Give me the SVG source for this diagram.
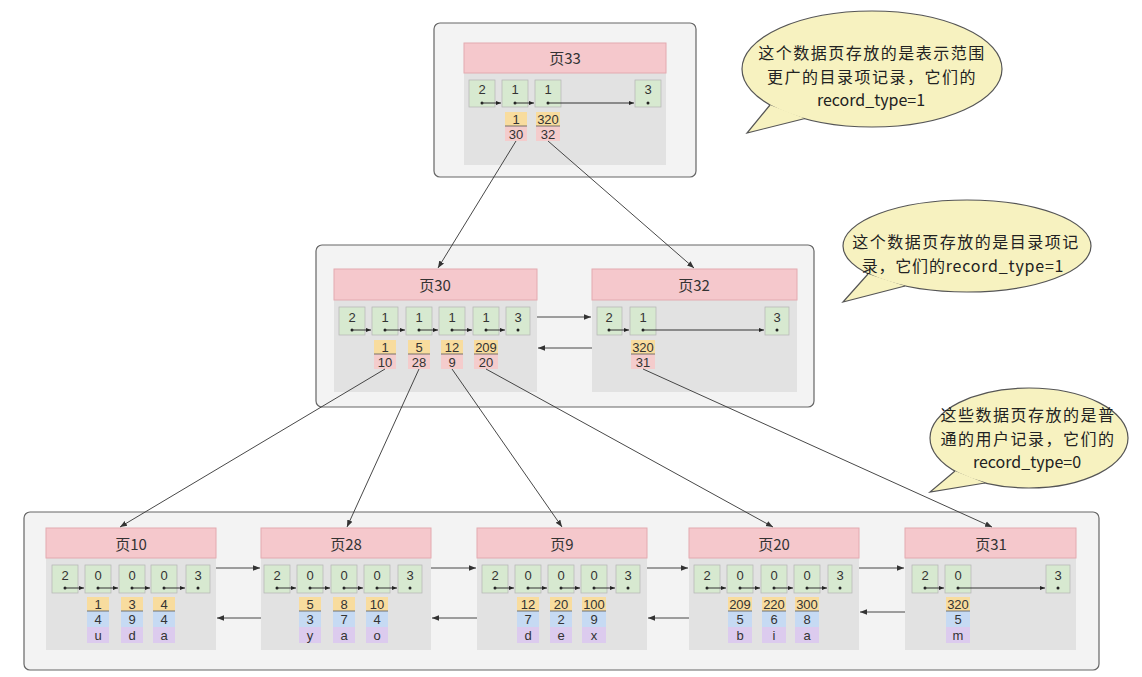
<svg xmlns="http://www.w3.org/2000/svg" width="1142" height="677" viewBox="0 0 1142 677">
<style>
text{font-family:"Liberation Sans","Noto Sans CJK SC",sans-serif;fill:#333;text-anchor:middle}
.n{font-size:13px}
.m{font-size:13px}
.ht{font-size:15px;font-family:"Noto Sans CJK SC","Noto Sans",sans-serif}
.bt{font-size:16px;fill:#222;font-family:"Noto Sans CJK SC","Noto Sans",sans-serif}
.cj{letter-spacing:1.5px}
.box{fill:#f3f3f3;stroke:#666;stroke-width:1.2}
.body{fill:#e2e2e2}
.hdr{fill:#f5c8cc;stroke:#e3aab0;stroke-width:1}
.rec{fill:#d7e9d0;stroke:#b4b4b4;stroke-width:0.7}
.k{fill:#f8dc9e}
.p{fill:#f4cccc}
.b{fill:#c6daf3}
.u{fill:#dccbee}
.sep{stroke:#555;stroke-width:0.8}
.ar{stroke:#333;stroke-width:0.9;fill:none;marker-end:url(#ah)}
.ra{stroke:#333;stroke-width:1;fill:none;marker-end:url(#ah2)}
.dot{fill:#222}
.bub{fill:#f7f2c0;stroke:#555;stroke-width:1.2}
</style>
<defs>
<marker id="ah" viewBox="0 0 10 10" refX="10" refY="5" markerWidth="7" markerHeight="7" orient="auto" markerUnits="userSpaceOnUse"><path d="M0,1 L10,5 L0,9 z" fill="#333"/></marker>
<marker id="ah2" viewBox="0 0 10 10" refX="10" refY="5" markerWidth="5" markerHeight="5" orient="auto" markerUnits="userSpaceOnUse"><path d="M0,1 L10,5 L0,9 z" fill="#222"/></marker>
</defs>
<rect width="1142" height="677" fill="#ffffff"/>

<!-- containers -->
<rect class="box" x="434" y="23" width="262" height="154" rx="6"/>
<rect class="box" x="316" y="245" width="498" height="162" rx="6"/>
<rect class="box" x="24" y="512" width="1075" height="158" rx="6"/>

<!-- page 33 -->
<g id="page33">
<rect class="body" x="464" y="73" width="202" height="92"/>
<rect class="hdr" x="464" y="43" width="202" height="30"/>
<text class="ht" x="565" y="64">页33</text>
<rect class="rec" x="469" y="80" width="26" height="27"/>
<rect class="rec" x="502" y="80" width="26" height="27"/>
<rect class="rec" x="535" y="80" width="26" height="27"/>
<rect class="rec" x="635" y="80" width="26" height="27"/>
<text class="n" x="482" y="94">2</text>
<text class="n" x="515" y="94">1</text>
<text class="n" x="548" y="94">1</text>
<text class="n" x="648" y="94">3</text>
<circle class="dot" cx="482" cy="103" r="1.5"/><circle class="dot" cx="515" cy="103" r="1.5"/><circle class="dot" cx="548" cy="103" r="1.5"/><circle class="dot" cx="648" cy="103" r="1.5"/>
<path class="ra" d="M482,103 H501"/><path class="ra" d="M515,103 H534"/><path class="ra" d="M548,103 H634"/>
<rect class="k" x="505" y="112" width="22" height="14"/><rect class="p" x="505" y="126" width="22" height="15"/>
<rect class="k" x="536" y="112" width="24" height="14"/><rect class="p" x="536" y="126" width="24" height="15"/>
<path class="sep" d="M505,126 H527 M536,126 H560"/>
<text class="m" x="516" y="123.5">1</text><text class="m" x="516" y="138.5">30</text>
<text class="m" x="548" y="123.5">320</text><text class="m" x="548" y="138.5">32</text>
</g>

<!-- page 30 -->
<g id="page30">
<rect class="body" x="334" y="300" width="203" height="92"/>
<rect class="hdr" x="334" y="269" width="203" height="31"/>
<text class="ht" x="435" y="291">页30</text>
<rect class="rec" x="339" y="307" width="26" height="28"/>
<rect class="rec" x="372" y="307" width="26" height="28"/>
<rect class="rec" x="406" y="307" width="26" height="28"/>
<rect class="rec" x="439" y="307" width="26" height="28"/>
<rect class="rec" x="473" y="307" width="26" height="28"/>
<rect class="rec" x="506" y="307" width="24" height="28"/>
<text class="n" x="352" y="322">2</text><text class="n" x="385" y="322">1</text><text class="n" x="419" y="322">1</text><text class="n" x="452" y="322">1</text><text class="n" x="486" y="322">1</text><text class="n" x="518" y="322">3</text>
<circle class="dot" cx="352" cy="330" r="1.5"/><circle class="dot" cx="385" cy="330" r="1.5"/><circle class="dot" cx="419" cy="330" r="1.5"/><circle class="dot" cx="452" cy="330" r="1.5"/><circle class="dot" cx="486" cy="330" r="1.5"/><circle class="dot" cx="518" cy="330" r="1.5"/>
<path class="ra" d="M352,330 H371"/><path class="ra" d="M385,330 H405"/><path class="ra" d="M419,330 H438"/><path class="ra" d="M452,330 H472"/><path class="ra" d="M486,330 H505"/>
<rect class="k" x="374" y="340" width="22" height="14"/><rect class="p" x="374" y="354" width="22" height="15"/>
<rect class="k" x="408" y="340" width="22" height="14"/><rect class="p" x="408" y="354" width="22" height="15"/>
<rect class="k" x="441" y="340" width="22" height="14"/><rect class="p" x="441" y="354" width="22" height="15"/>
<rect class="k" x="474" y="340" width="24" height="14"/><rect class="p" x="474" y="354" width="24" height="15"/>
<path class="sep" d="M374,354 H396 M408,354 H430 M441,354 H463 M474,354 H498"/>
<text class="m" x="385" y="351.5">1</text><text class="m" x="419" y="351.5">5</text><text class="m" x="452" y="351.5">12</text><text class="m" x="486" y="351.5">209</text>
<text class="m" x="385" y="366.5">10</text><text class="m" x="419" y="366.5">28</text><text class="m" x="452" y="366.5">9</text><text class="m" x="486" y="366.5">20</text>
</g>

<!-- page 32 -->
<g id="page32">
<rect class="body" x="592" y="300" width="205" height="92"/>
<rect class="hdr" x="592" y="269" width="205" height="31"/>
<text class="ht" x="694" y="291">页32</text>
<rect class="rec" x="597" y="307" width="25" height="28"/>
<rect class="rec" x="630" y="307" width="26" height="28"/>
<rect class="rec" x="765" y="307" width="24" height="28"/>
<text class="n" x="609" y="322">2</text><text class="n" x="643" y="322">1</text><text class="n" x="777" y="322">3</text>
<circle class="dot" cx="609" cy="330" r="1.5"/><circle class="dot" cx="643" cy="330" r="1.5"/><circle class="dot" cx="777" cy="330" r="1.5"/>
<path class="ra" d="M609,330 H629"/><path class="ra" d="M643,330 H764"/>
<rect class="k" x="631" y="340" width="24" height="14"/><rect class="p" x="631" y="354" width="24" height="15"/>
<path class="sep" d="M631,354 H655"/>
<text class="m" x="643" y="351.5">320</text><text class="m" x="643" y="366.5">31</text>
</g>

<!-- bottom pages -->
<g id="page10">
<rect class="body" x="46" y="558" width="170" height="92"/>
<rect class="hdr" x="46" y="528" width="170" height="30"/>
<text class="ht" x="131" y="550">页10</text>
<rect class="rec" x="52" y="565" width="26" height="28"/><rect class="rec" x="85" y="565" width="26" height="28"/><rect class="rec" x="119" y="565" width="26" height="28"/><rect class="rec" x="151" y="565" width="26" height="28"/><rect class="rec" x="186" y="565" width="24" height="28"/>
<text class="n" x="65" y="580">2</text><text class="n" x="98" y="580">0</text><text class="n" x="132" y="580">0</text><text class="n" x="164" y="580">0</text><text class="n" x="198" y="580">3</text>
<circle class="dot" cx="65" cy="588" r="1.5"/><circle class="dot" cx="98" cy="588" r="1.5"/><circle class="dot" cx="132" cy="588" r="1.5"/><circle class="dot" cx="164" cy="588" r="1.5"/><circle class="dot" cx="198" cy="588" r="1.5"/>
<path class="ra" d="M65,588 H84"/><path class="ra" d="M98,588 H118"/><path class="ra" d="M132,588 H150"/><path class="ra" d="M164,588 H185"/>
<rect class="k" x="87" y="597" width="22" height="14"/><rect class="b" x="87" y="611" width="22" height="16"/><rect class="u" x="87" y="627" width="22" height="16"/>
<rect class="k" x="121" y="597" width="22" height="14"/><rect class="b" x="121" y="611" width="22" height="16"/><rect class="u" x="121" y="627" width="22" height="16"/>
<rect class="k" x="153" y="597" width="22" height="14"/><rect class="b" x="153" y="611" width="22" height="16"/><rect class="u" x="153" y="627" width="22" height="16"/>
<path class="sep" d="M87,611 H109 M121,611 H143 M153,611 H175"/>
<text class="n" x="98" y="608.5">1</text><text class="n" x="132" y="608.5">3</text><text class="n" x="164" y="608.5">4</text>
<text class="n" x="98" y="624">4</text><text class="n" x="132" y="624">9</text><text class="n" x="164" y="624">4</text>
<text class="n" x="98" y="640">u</text><text class="n" x="132" y="640">d</text><text class="n" x="164" y="640">a</text>
</g>

<g id="page28">
<rect class="body" x="261" y="558" width="170" height="92"/>
<rect class="hdr" x="261" y="528" width="170" height="30"/>
<text class="ht" x="346" y="550">页28</text>
<rect class="rec" x="264" y="565" width="26" height="28"/><rect class="rec" x="297" y="565" width="26" height="28"/><rect class="rec" x="331" y="565" width="26" height="28"/><rect class="rec" x="364" y="565" width="26" height="28"/><rect class="rec" x="398" y="565" width="24" height="28"/>
<text class="n" x="277" y="580">2</text><text class="n" x="310" y="580">0</text><text class="n" x="344" y="580">0</text><text class="n" x="377" y="580">0</text><text class="n" x="410" y="580">3</text>
<circle class="dot" cx="277" cy="588" r="1.5"/><circle class="dot" cx="310" cy="588" r="1.5"/><circle class="dot" cx="344" cy="588" r="1.5"/><circle class="dot" cx="377" cy="588" r="1.5"/><circle class="dot" cx="410" cy="588" r="1.5"/>
<path class="ra" d="M277,588 H296"/><path class="ra" d="M310,588 H330"/><path class="ra" d="M344,588 H363"/><path class="ra" d="M377,588 H397"/>
<rect class="k" x="299" y="597" width="22" height="14"/><rect class="b" x="299" y="611" width="22" height="16"/><rect class="u" x="299" y="627" width="22" height="16"/>
<rect class="k" x="333" y="597" width="22" height="14"/><rect class="b" x="333" y="611" width="22" height="16"/><rect class="u" x="333" y="627" width="22" height="16"/>
<rect class="k" x="366" y="597" width="22" height="14"/><rect class="b" x="366" y="611" width="22" height="16"/><rect class="u" x="366" y="627" width="22" height="16"/>
<path class="sep" d="M299,611 H321 M333,611 H355 M366,611 H388"/>
<text class="n" x="310" y="608.5">5</text><text class="n" x="344" y="608.5">8</text><text class="n" x="377" y="608.5">10</text>
<text class="n" x="310" y="624">3</text><text class="n" x="344" y="624">7</text><text class="n" x="377" y="624">4</text>
<text class="n" x="310" y="640">y</text><text class="n" x="344" y="640">a</text><text class="n" x="377" y="640">o</text>
</g>

<g id="page9">
<rect class="body" x="477" y="558" width="170" height="92"/>
<rect class="hdr" x="477" y="528" width="170" height="30"/>
<text class="ht" x="562" y="550">页9</text>
<rect class="rec" x="482" y="565" width="26" height="28"/><rect class="rec" x="515" y="565" width="26" height="28"/><rect class="rec" x="548" y="565" width="26" height="28"/><rect class="rec" x="581" y="565" width="26" height="28"/><rect class="rec" x="616" y="565" width="24" height="28"/>
<text class="n" x="495" y="580">2</text><text class="n" x="528" y="580">0</text><text class="n" x="561" y="580">0</text><text class="n" x="594" y="580">0</text><text class="n" x="628" y="580">3</text>
<circle class="dot" cx="495" cy="588" r="1.5"/><circle class="dot" cx="528" cy="588" r="1.5"/><circle class="dot" cx="561" cy="588" r="1.5"/><circle class="dot" cx="594" cy="588" r="1.5"/><circle class="dot" cx="628" cy="588" r="1.5"/>
<path class="ra" d="M495,588 H514"/><path class="ra" d="M528,588 H547"/><path class="ra" d="M561,588 H580"/><path class="ra" d="M594,588 H615"/>
<rect class="k" x="517" y="597" width="22" height="14"/><rect class="b" x="517" y="611" width="22" height="16"/><rect class="u" x="517" y="627" width="22" height="16"/>
<rect class="k" x="550" y="597" width="22" height="14"/><rect class="b" x="550" y="611" width="22" height="16"/><rect class="u" x="550" y="627" width="22" height="16"/>
<rect class="k" x="582" y="597" width="24" height="14"/><rect class="b" x="582" y="611" width="24" height="16"/><rect class="u" x="582" y="627" width="24" height="16"/>
<path class="sep" d="M517,611 H539 M550,611 H572 M582,611 H606"/>
<text class="n" x="528" y="608.5">12</text><text class="n" x="561" y="608.5">20</text><text class="n" x="594" y="608.5">100</text>
<text class="n" x="528" y="624">7</text><text class="n" x="561" y="624">2</text><text class="n" x="594" y="624">9</text>
<text class="n" x="528" y="640">d</text><text class="n" x="561" y="640">e</text><text class="n" x="594" y="640">x</text>
</g>

<g id="page20">
<rect class="body" x="689" y="558" width="170" height="92"/>
<rect class="hdr" x="689" y="528" width="170" height="30"/>
<text class="ht" x="774" y="550">页20</text>
<rect class="rec" x="694" y="565" width="26" height="28"/><rect class="rec" x="727" y="565" width="26" height="28"/><rect class="rec" x="761" y="565" width="26" height="28"/><rect class="rec" x="794" y="565" width="26" height="28"/><rect class="rec" x="828" y="565" width="24" height="28"/>
<text class="n" x="707" y="580">2</text><text class="n" x="740" y="580">0</text><text class="n" x="774" y="580">0</text><text class="n" x="807" y="580">0</text><text class="n" x="840" y="580">3</text>
<circle class="dot" cx="707" cy="588" r="1.5"/><circle class="dot" cx="740" cy="588" r="1.5"/><circle class="dot" cx="774" cy="588" r="1.5"/><circle class="dot" cx="807" cy="588" r="1.5"/><circle class="dot" cx="840" cy="588" r="1.5"/>
<path class="ra" d="M707,588 H726"/><path class="ra" d="M740,588 H760"/><path class="ra" d="M774,588 H793"/><path class="ra" d="M807,588 H827"/>
<rect class="k" x="728" y="597" width="24" height="14"/><rect class="b" x="728" y="611" width="24" height="16"/><rect class="u" x="728" y="627" width="24" height="16"/>
<rect class="k" x="762" y="597" width="24" height="14"/><rect class="b" x="762" y="611" width="24" height="16"/><rect class="u" x="762" y="627" width="24" height="16"/>
<rect class="k" x="795" y="597" width="24" height="14"/><rect class="b" x="795" y="611" width="24" height="16"/><rect class="u" x="795" y="627" width="24" height="16"/>
<path class="sep" d="M728,611 H752 M762,611 H786 M795,611 H819"/>
<text class="n" x="740" y="608.5">209</text><text class="n" x="774" y="608.5">220</text><text class="n" x="807" y="608.5">300</text>
<text class="n" x="740" y="624">5</text><text class="n" x="774" y="624">6</text><text class="n" x="807" y="624">8</text>
<text class="n" x="740" y="640">b</text><text class="n" x="774" y="640">i</text><text class="n" x="807" y="640">a</text>
</g>

<g id="page31">
<rect class="body" x="905" y="558" width="171" height="92"/>
<rect class="hdr" x="905" y="528" width="171" height="30"/>
<text class="ht" x="991" y="550">页31</text>
<rect class="rec" x="912" y="565" width="26" height="28"/><rect class="rec" x="945" y="565" width="26" height="28"/><rect class="rec" x="1046" y="565" width="24" height="28"/>
<text class="n" x="925" y="580">2</text><text class="n" x="958" y="580">0</text><text class="n" x="1058" y="580">3</text>
<circle class="dot" cx="925" cy="588" r="1.5"/><circle class="dot" cx="958" cy="588" r="1.5"/><circle class="dot" cx="1058" cy="588" r="1.5"/>
<path class="ra" d="M925,588 H944"/><path class="ra" d="M958,588 H1045"/>
<rect class="k" x="946" y="597" width="24" height="14"/><rect class="b" x="946" y="611" width="24" height="16"/><rect class="u" x="946" y="627" width="24" height="16"/>
<path class="sep" d="M946,611 H970"/>
<text class="n" x="958" y="608.5">320</text><text class="n" x="958" y="624">5</text><text class="n" x="958" y="640">m</text>
</g>

<!-- connectors -->
<g id="connectors">
<path class="ar" d="M516,141 L438,268"/>
<path class="ar" d="M548,141 L694,268"/>
<path class="ar" d="M537,317 H591"/>
<path class="ar" d="M592,348 H538"/>
<path class="ar" d="M385,369 L120,527"/>
<path class="ar" d="M419,369 L347,527"/>
<path class="ar" d="M452,369 L562,527"/>
<path class="ar" d="M486,369 L773,527"/>
<path class="ar" d="M643,369 L992,527"/>
<path class="ar" d="M216,568 H260"/>
<path class="ar" d="M261,618 H217"/>
<path class="ar" d="M431,568 H476"/>
<path class="ar" d="M477,618 H432"/>
<path class="ar" d="M647,568 H688"/>
<path class="ar" d="M689,618 H648"/>
<path class="ar" d="M859,568 H904"/>
<path class="ar" d="M905,612 H860"/>
</g>

<!-- callouts -->
<g id="note1">
<ellipse class="bub" cx="872" cy="69" rx="130" ry="58"/>
<path class="bub" d="M770,105 L747,133 L805,118.5"/>
<text class="bt cj" x="872" y="59">这个数据页存放的是表示范围</text>
<text class="bt cj" x="872" y="82.5">更广的目录项记录，它们的</text>
<text class="bt" x="871" y="106">record_type=1</text>
</g>
<g id="note2">
<ellipse class="bub" cx="967" cy="246" rx="124" ry="46"/>
<path class="bub" d="M868,274 L843,302 L905,286"/>
<text class="bt cj" x="966" y="248">这个数据页存放的是目录项记</text>
<text class="bt" x="963" y="272" style="letter-spacing:0.8px">录，它们的record_type=1</text>
</g>
<g id="note3">
<ellipse class="bub" cx="1029" cy="438" rx="99" ry="50"/>
<path class="bub" d="M955,471 L930,492 L985,483"/>
<text class="bt cj" x="1028" y="421">这些数据页存放的是普</text>
<text class="bt cj" x="1028" y="444.5">通的用户记录，它们的</text>
<text class="bt" x="1027" y="468">record_type=0</text>
</g>
</svg>
